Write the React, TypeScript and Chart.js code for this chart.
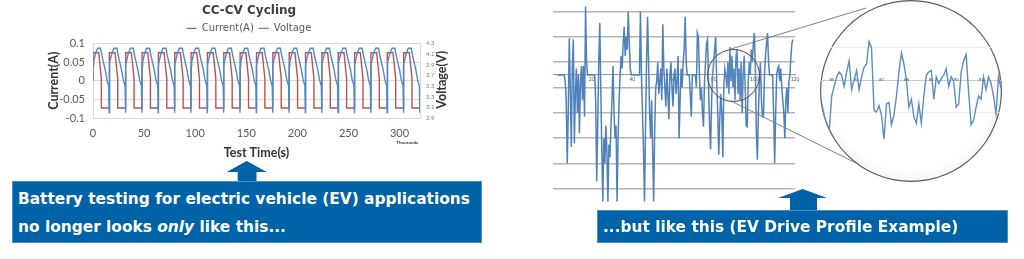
import React, { useEffect, useRef } from "react";
import { Chart, registerables } from "chart.js";

Chart.register(...registerables);

const FONT = 'Lato, "DejaVu Sans", sans-serif';
const WIDE_FONT = '"DejaVu Sans", Lato, sans-serif';
const CALLOUT_BLUE = "#0062a7";

// CC-CV cycling test: time axis in thousands of seconds
const cycleStarts = [0, 16, 32, 48, 64, 80, 96, 112, 128, 144, 160, 176, 192, 208, 224, 240, 256, 272, 288, 304];
const initialCurrent = 0;
const currentStepTimes = [0, 5.6, 8.2, 8.2, 16];
const currentStepAmps = [0.075, 0.075, 0.005, -0.073, -0.073];
const voltageStepTimes = [0, 0.6, 2.6, 4.6, 7.4, 8.4, 10.2, 12.0, 13.6, 15.4, 15.8];
const voltageStepVolts = [3.88, 3.95, 4.12, 4.21, 4.21, 4.1, 3.95, 3.8, 3.62, 3.5, 3.0];
const currentTicks = [-0.1, -0.05, 0, 0.05, 0.1];
const currentTickLabels = ["-0.1", "-0.05", "0", "0.05", "0.1"];
const voltageTicks = [2.9, 3.1, 3.3, 3.5, 3.7, 3.9, 4.1, 4.3];
const timeTicks = [0, 50, 100, 150, 200, 250, 300];

// EV drive profile: current samples every half time unit
const driveStartTime = 3;
const driveSampleStep = 0.5;
const driveCurrent = [
  0, 0, 0, 0, 0, 0, 0, 0, -5, -20,
  -70, -30, 29, -10, -57, 5, 28, -54, -15, 5,
  -30, 0, -46, -5, 7, -20, 7, -33, 54, 10,
  0, 0, 0, 0, 0, 0, 0, 0, -20, -84,
  -40, 10, 41, -10, -60, -100, -50, -70, -40, -60,
  -100, -55, -65, -40, -20, 7, -30, -50, -40, -100,
  -50, -20, 0, 15, 5, 25, 38, 15, 30, 20,
  50, 25, 5, 0, 0, 0, 0, 0, 0, 0,
  0, 0, 50, 0, -30, -60, -100, -40, 10, 46,
  10, -30, -50, -20, -60, -100, -45, -10, -5, 10,
  -15, -5, 5, -20, 40, 5, -10, -25, 5, -15,
  -35, 0, 10, -10, -25, 0, 5, -15, -5, 15,
  -50, -20, 5, -10, 10, 20, 46, 10, 0, 0,
  0, -15, -33, 0, 0, 0, 0, -10, 33, 30,
  0, -20, -10, -30, -41, -5, 10, 25, 28, -10,
  -40, -59, -20, 0, 10, 20, 30, -5, -30, -63,
  -35, -15, -30, -65, -10, 5, 0, -10, 10, -15,
  22, -5, 15, -10, 5, -20, 15, 20, -15, 5,
  -20, 10, -30, 0, 15, -10, -40, -41, -5, 10,
  0, 20, 10, 25, 33, 5, -45, -67, -30, -5,
  10, -20, -33, -33, 0, 15, 25, 33, 10, 0,
  0, 0, 0, -30, -70, -30, 0, 5, 7, -5,
  5, -10, -20, -30, -50, -20, -10, -30, -5, 0,
  15, 25, 28,
];
const driveTimeTicks = [20, 40, 60, 80, 100, 120];
const driveGridLevels = [-90, -70, -50, -30, -10, 10, 30, 50];

// Magnified stretch of the drive profile
const lensStartTime = 84.6;
const lensSampleStep = 0.1;
const lensCurrent = [
  -15, -22, -30, -32, -10, -4, 2, 5, 3, -4,
  5, 12, -6, 0, 6, -6, 2, 8, 10, 24,
  20, -19, -20, -16, -22, -37, -15, -14, -28, -22,
  -10, 5, 17, 10, 0, -17, -12, -23, -27, -15,
  -27, -10, 3, 5, 6, -12, 2, -2, 1, 3,
  7, -4, 2, -1, -17, -15, 5, 12, 16, -8,
  -28, -25, -17, -10, -12, 2, -6, 2, -2, -10,
  -21, 2, -5,
];
const lensTimeTicks = [85, 86, 87, 88, 89, 90, 91];
const lensGridLevels = [-20, 20];

const cyclePoints = (times: number[], values: number[]) =>
  cycleStarts.flatMap((s) => times.map((t, i) => ({ x: s + t, y: values[i] })));

const sampled = (start: number, step: number, values: number[]) =>
  values.map((y, i) => ({ x: start + i * step, y }));

const fixedTicks = (values: number[]) => (scale: any) => {
  scale.ticks = values.map((value) => ({ value }));
};

const cyclingExtras = {
  id: "cyclingExtras",
  afterDraw(chart: any) {
    const { ctx, chartArea } = chart;
    const right = chart.scales.y1.right;
    ctx.save();
    ctx.fillStyle = "#333";
    ctx.font = `bold 12.5px ${FONT}`;
    ctx.textAlign = "center";
    ctx.textBaseline = "middle";
    ctx.translate(right - 10, (chartArea.top + chartArea.bottom) / 2 - 1);
    ctx.rotate(-Math.PI / 2);
    ctx.fillText("Voltage(V)", 0, 0);
    ctx.restore();

    ctx.save();
    ctx.fillStyle = "#333";
    ctx.font = `bold 4.5px ${FONT}`;
    ctx.textAlign = "right";
    ctx.textBaseline = "middle";
    ctx.fillText("Thousands", chartArea.right - 2, chartArea.bottom + 25);
    ctx.restore();
  },
};

function cyclingConfig(): any {
  return {
    type: "line",
    data: {
      datasets: [
        {
          label: "Current(A)",
          data: [{ x: 0, y: initialCurrent }, ...cyclePoints(currentStepTimes, currentStepAmps)],
          borderColor: "#c0504d",
          borderWidth: 1.4,
          pointRadius: 0,
          yAxisID: "y",
          order: 1,
        },
        {
          label: "Voltage",
          data: cyclePoints(voltageStepTimes, voltageStepVolts),
          borderColor: "#4a8bd0",
          borderWidth: 1.4,
          pointRadius: 0,
          yAxisID: "y1",
          order: 0,
        },
      ],
    },
    options: {
      responsive: false,
      animation: false,
      layout: { padding: { left: 46, right: 41, top: 0, bottom: 0 } },
      plugins: {
        title: {
          display: true,
          text: "CC-CV Cycling",
          color: "#404040",
          font: { family: WIDE_FONT, size: 12, weight: "bold" },
          padding: { top: 4, bottom: 0 },
        },
        legend: {
          display: true,
          labels: {
            usePointStyle: true,
            pointStyle: "line",
            pointStyleWidth: 10,
            color: "#595959",
            font: { family: WIDE_FONT, size: 10 },
            padding: 5,
            sort: (a: any, b: any) => a.datasetIndex - b.datasetIndex,
          },
        },
        tooltip: { enabled: false },
      },
      scales: {
        x: {
          type: "linear",
          min: 0,
          max: 320,
          afterBuildTicks: fixedTicks(timeTicks),
          ticks: { color: "#595959", font: { family: FONT, size: 11 }, padding: 1 },
          grid: { display: false },
          border: { display: false },
          title: {
            display: true,
            text: "Test Time(s)",
            color: "#333",
            font: { family: FONT, size: 12.5, weight: "bold" },
            padding: { top: 0, bottom: 10 },
          },
          afterFit: (s: any) => {
            s.height = 52;
          },
        },
        y: {
          position: "left",
          min: -0.1,
          max: 0.1,
          afterBuildTicks: fixedTicks(currentTicks),
          ticks: {
            color: "#595959",
            font: { family: FONT, size: 11 },
            padding: 8,
            callback: (_v: any, i: number) => currentTickLabels[i],
          },
          grid: { color: "#d9d9d9", drawTicks: false },
          border: { display: true, color: "#d9d9d9" },
          title: {
            display: true,
            text: "Current(A)",
            color: "#333",
            font: { family: FONT, size: 12.5, weight: "bold" },
            padding: { top: 0, bottom: 0 },
          },
          afterFit: (s: any) => {
            s.width = 47;
          },
        },
        y1: {
          position: "right",
          min: 2.9,
          max: 4.3,
          afterBuildTicks: fixedTicks(voltageTicks),
          ticks: {
            color: "#7f7f7f",
            font: { family: FONT, size: 6 },
            padding: 6,
            callback: (v: any) => Number(v).toFixed(1),
          },
          grid: { display: false, drawTicks: false },
          border: { display: true, color: "#d9d9d9" },
          afterFit: (s: any) => {
            s.width = 32;
          },
        },
      },
    },
    plugins: [cyclingExtras],
  };
}

function driveConfig(): any {
  return {
    type: "line",
    data: {
      datasets: [
        {
          data: sampled(driveStartTime, driveSampleStep, driveCurrent),
          borderColor: "#4f81bd",
          borderWidth: 1.5,
          pointRadius: 0,
        },
      ],
    },
    options: {
      responsive: false,
      animation: false,
      layout: { padding: { left: 13, right: 7, top: 4, bottom: 6 } },
      plugins: { legend: { display: false }, title: { display: false }, tooltip: { enabled: false } },
      scales: {
        x: {
          type: "linear",
          min: 1,
          max: 120,
          position: { y: 0 },
          afterBuildTicks: fixedTicks(driveTimeTicks),
          ticks: { color: "#555", font: { family: FONT, size: 5 }, padding: 2, maxRotation: 0 },
          grid: { display: false, drawTicks: false },
          border: { display: true, color: "#9a9a9a", width: 1 },
          afterFit: (s: any) => {
            s.height = 0;
          },
        },
        y: {
          min: -102,
          max: 56,
          afterBuildTicks: fixedTicks(driveGridLevels),
          ticks: { display: false },
          grid: { color: "#b5b5b5", lineWidth: 1.5, drawTicks: false },
          border: { display: false },
          afterFit: (s: any) => {
            s.width = 0;
          },
        },
      },
    },
  };
}

function lensConfig(): any {
  return {
    type: "line",
    data: {
      datasets: [
        {
          data: sampled(lensStartTime, lensSampleStep, lensCurrent),
          borderColor: "#5a8cc8",
          borderWidth: 1.4,
          pointRadius: 0,
        },
      ],
    },
    options: {
      responsive: false,
      animation: false,
      layout: { padding: 0 },
      plugins: { legend: { display: false }, title: { display: false }, tooltip: { enabled: false } },
      scales: {
        x: {
          type: "linear",
          min: 84.53,
          max: 91.84,
          position: { y: 0 },
          afterBuildTicks: fixedTicks(lensTimeTicks),
          ticks: { color: "#444", font: { family: FONT, size: 4 }, padding: -3, maxRotation: 0 },
          grid: { display: false, drawTicks: false },
          border: { display: true, color: "#c8c8c8", width: 1 },
          afterFit: (s: any) => {
            s.height = 0;
          },
        },
        y: {
          min: -63.75,
          max: 50,
          afterBuildTicks: fixedTicks(lensGridLevels),
          ticks: { display: false },
          grid: { color: "#ececec", lineWidth: 1, drawTicks: false },
          border: { display: false },
          afterFit: (s: any) => {
            s.width = 0;
          },
        },
      },
    },
  };
}

const abs = (left: number, top: number, width: number, height: number): React.CSSProperties => ({
  position: "absolute",
  left,
  top,
  width,
  height,
});

export default function App() {
  const cyclingRef = useRef<HTMLCanvasElement>(null);
  const driveRef = useRef<HTMLCanvasElement>(null);
  const lensRef = useRef<HTMLCanvasElement>(null);

  useEffect(() => {
    const charts = [
      new Chart(cyclingRef.current!, cyclingConfig()),
      new Chart(driveRef.current!, driveConfig()),
      new Chart(lensRef.current!, lensConfig()),
    ];
    return () => charts.forEach((c) => c.destroy());
  }, []);

  const calloutText: React.CSSProperties = {
    position: "absolute",
    color: "#fff",
    fontFamily: WIDE_FONT,
    fontWeight: 700,
    fontSize: 15.4,
    lineHeight: "28px",
    whiteSpace: "nowrap",
  };

  return (
    <div style={{ ...abs(0, 0, 1024, 259), background: "#fff", overflow: "hidden", fontFamily: FONT }}>
      <canvas ref={cyclingRef} width={493} height={170} style={abs(0, 0, 493, 170)} />
      <canvas ref={driveRef} width={262} height={210} style={abs(540, 0, 262, 210)} />

      <svg width={1024} height={259} style={{ ...abs(0, 0, 1024, 259), pointerEvents: "none" }}>
        <line x1={731} y1={49} x2={866} y2={8} stroke="#808080" strokeWidth={1} />
        <line x1={731} y1={101} x2={858} y2={164} stroke="#808080" strokeWidth={1} />
        <polygon points="246.7,161 266.7,172 256.5,172 256.5,182 237.7,182 237.7,172 226.7,172" fill={CALLOUT_BLUE} />
        <polygon points="802.7,189 827,198 817,198 817,211 790,211 790,198 778,198" fill={CALLOUT_BLUE} />
      </svg>

      {/* small lens over the drive profile */}
      <div
        style={{
          ...abs(706.5, 48.5, 53.5, 53.5),
          borderRadius: "50%",
          boxSizing: "border-box",
          border: "1.5px solid #4d4d4d",
          background:
            "radial-gradient(circle, rgba(255,255,255,0.05) 55%, rgba(190,190,190,0.45) 82%, rgba(130,130,130,0.55) 100%)",
        }}
      />

      {/* large magnifier */}
      <div
        style={{
          ...abs(820, 0, 182, 182),
          borderRadius: "50%",
          overflow: "hidden",
          background:
            "radial-gradient(circle at 50% 48%, #ffffff 0%, #ffffff 62%, #f1f1f1 78%, #d2d2d2 92%, #a9a9a9 100%)",
          boxShadow: "inset 0 0 0 1.2px #5c5c5c",
        }}
      >
        <canvas ref={lensRef} width={182} height={182} style={abs(0, 0, 182, 182)} />
      </div>

      <div
        style={{
          ...abs(12, 181, 470, 62),
          background: CALLOUT_BLUE,
          boxSizing: "border-box",
          border: "1px solid #4a8fcc",
        }}
      />
      <div style={{ ...calloutText, left: 18, top: 185 }}>
        Battery testing for electric vehicle (EV) applications
        <br />
        no longer looks <i>only</i> like this...
      </div>

      <div
        style={{
          ...abs(597, 210, 411, 33),
          background: CALLOUT_BLUE,
          boxSizing: "border-box",
          border: "1px solid #4a8fcc",
        }}
      />
      <div style={{ ...calloutText, left: 603, top: 212.5 }}>...but like this (EV Drive Profile Example)</div>
    </div>
  );
}
